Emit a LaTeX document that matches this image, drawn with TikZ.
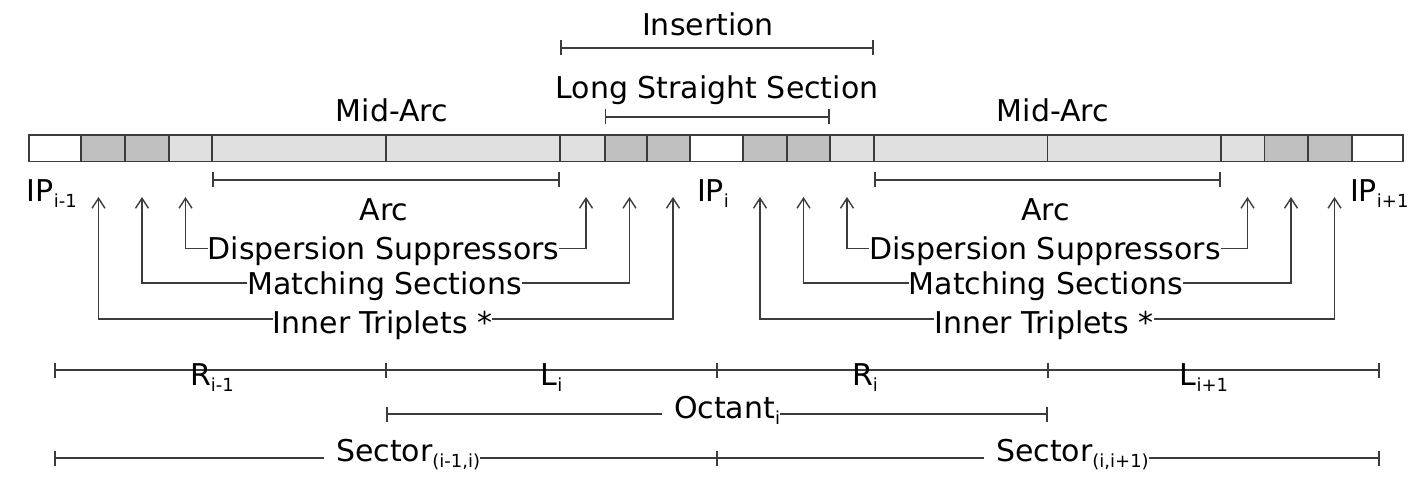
\documentclass[tikz,border=0pt]{standalone}
\usepackage{fontspec}
\setmainfont{DejaVu Sans}
\usetikzlibrary{arrows.meta,calc}
\newcommand\sbs[1]{\raisebox{-6pt}{\fontsize{18}{18}\selectfont #1}}
\definecolor{lg}{HTML}{E0E0E0}
\definecolor{dg}{HTML}{C0C0C0}
\definecolor{ln}{HTML}{3C3C3C}
\begin{document}
\begin{tikzpicture}[x=1pt,y=-1pt,
  lbl/.style={inner sep=0pt,outer sep=0pt,font=\fontsize{30}{36}\selectfont,text=black},
  seg/.style={draw=ln,line width=1.6pt},
  dimln/.style={draw=ln,line width=1.6pt,{Bar[width=15pt,line width=1.6pt]}-{Bar[width=15pt,line width=1.6pt]}},
  tickln/.style={draw=ln,line width=1.6pt},
  arr/.style={draw=ln,line width=1.4pt,-{Straight Barb[length=10pt,width=13pt,line width=1.4pt]}}
]
\useasboundingbox (0,0) rectangle (1426,481);

% beam line segments
\foreach \a/\b/\c in {29/81/white, 81/125/dg, 125/169/dg, 169/212/lg, 212/386/lg, 386/560/lg, 560/604.7/lg, 604.7/646.7/dg, 646.7/690/dg, 690/743/white, 743/786.7/dg, 786.7/830/dg, 830/874/lg, 874/1047.3/lg, 1047.3/1221/lg, 1221/1264.3/lg, 1264.3/1308/dg, 1308/1351.7/dg, 1351.7/1403/white}
  \path[seg,fill=\c] (\a,135) rectangle (\b,161.5);

% top brackets
\coordinate (insL) at (560,48);
\coordinate (insR) at (874,48);
\draw[dimln] (insL) -- (insR);
\node[lbl,anchor=base] (ins) at (708,36) {Insertion};

\coordinate (lssL) at (604.7,117);
\coordinate (lssR) at (830,117);
\draw[dimln] (lssL) -- (lssR);
\node[lbl,anchor=base] (lss) at (717,99) {Long Straight Section};

\node[lbl,anchor=base] (mida) at (392,122) {Mid-Arc};
\node[lbl,anchor=base] (midb) at (1053,122) {Mid-Arc};

\coordinate (arcaL) at (212,180);
\coordinate (arcaR) at (560,180);
\coordinate (arcbL) at (874,180);
\coordinate (arcbR) at (1221,180);
\draw[dimln] (arcaL) -- (arcaR);
\draw[dimln] (arcbL) -- (arcbR);

% IP labels
\node[lbl,anchor=base west] (ip0) at (27,201.7) {IP\sbs{i-1}};
\node[lbl,anchor=base west] (ip1) at (697,201.7) {IP\sbs{i}};
\node[lbl,anchor=base west] (ip2) at (1350,201.7) {IP\sbs{i+1}};

% arrow groups
\foreach \s/\dx in {a/0, b/661.5}{
  \node[lbl,anchor=base] (arc\s) at (384+\dx,220) {Arc};
  \node[lbl,anchor=base] (ds\s) at (383.5+\dx,259.5) {Dispersion Suppressors};
  \node[lbl,anchor=base] (ms\s) at (384.5+\dx,294) {Matching Sections};
  \node[lbl,anchor=base] (it\s) at (382.5+\dx,333) {Inner Triplets *};
  \coordinate (t1\s) at (98.5+\dx,197);
  \coordinate (t2\s) at (142+\dx,197);
  \coordinate (t3\s) at (185.5+\dx,197);
  \coordinate (t4\s) at (586+\dx,197);
  \coordinate (t5\s) at (629.5+\dx,197);
  \coordinate (t6\s) at (673+\dx,197);
  \coordinate (yds\s) at (0,248.5);
  \coordinate (yms\s) at (0,283);
  \coordinate (yit\s) at (0,319);
  \draw[arr] (ds\s.west |- yds\s) -| (t3\s);
  \draw[arr] (ds\s.east |- yds\s) -| (t4\s);
  \draw[arr] (ms\s.west |- yms\s) -| (t2\s);
  \draw[arr] (ms\s.east |- yms\s) -| (t5\s);
  \draw[arr] (it\s.west |- yit\s) -| (t1\s);
  \draw[arr] (it\s.east |- yit\s) -| (t6\s);
}

% bottom rows
\coordinate (r0) at (54,370);
\coordinate (r1) at (386,370);
\coordinate (r2) at (717,370);
\coordinate (r3) at (1048,370);
\coordinate (r4) at (1380,370);
\draw[dimln] (r0) -- (r4);
\foreach \p in {r1,r2,r3}
  \draw[tickln] ($(\p)+(0,-7.5)$) -- ($(\p)+(0,7.5)$);
\node[lbl,anchor=base] (rim) at (212,385) {R\sbs{i-1}};
\node[lbl,anchor=base] (li) at (551.5,385) {L\sbs{i}};
\node[lbl,anchor=base] (ri) at (865,385) {R\sbs{i}};
\node[lbl,anchor=base] (lip) at (1204,385) {L\sbs{i+1}};

\coordinate (o0) at (386,414);
\coordinate (o1) at (1048,414);
\draw[dimln] (o0) -- (o1);
\node[lbl,anchor=base west,fill=white] (oct) at (662,418) {\hspace{12pt}Octant\sbs{i}};

\coordinate (s0) at (54,458);
\coordinate (s1) at (717,458);
\coordinate (s2) at (1380,458);
\draw[dimln] (s0) -- (s2);
\draw[tickln] ($(s1)+(0,-7.5)$) -- ($(s1)+(0,7.5)$);
\node[lbl,anchor=base west,fill=white] (seca) at (324,461.7) {\hspace{12pt}Sector\sbs{(i-1,i)}};
\node[lbl,anchor=base west,fill=white] (secb) at (984,461.7) {\hspace{12pt}Sector\sbs{(i,i+1)}};
\end{tikzpicture}
\end{document}
